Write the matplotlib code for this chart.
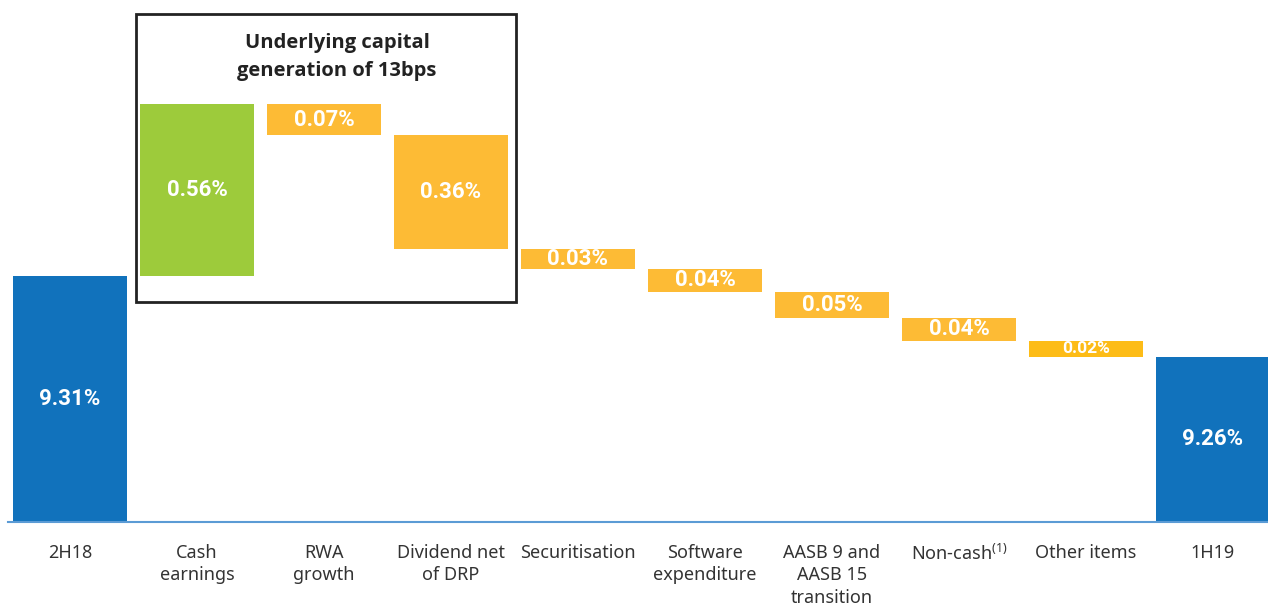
import numpy as np
import matplotlib
matplotlib.use('Agg')
from matplotlib import pyplot as plt
from matplotlib.patches import Rectangle

plt.rcParams['font.family'] = ['Noto Sans', 'DejaVu Sans']
plt.rcParams['mathtext.fontset'] = 'custom'
plt.rcParams['mathtext.rm'] = 'Noto Sans'

# data
categories = ['2H18', 'Cash\nearnings', 'RWA\ngrowth', 'Dividend net\nof DRP',
              'Securitisation', 'Software\nexpenditure',
              'AASB 9 and\nAASB 15\ntransition', 'Non-cash$^{\\rm(1)}$',
              'Other items', '1H19']
start_value = 9.31
end_value = 9.26
# step sizes as drawn in the chart (small steps are drawn taller than scale)
step_drawn = [0.56, -0.10, -0.37, -0.065, -0.075, -0.085, -0.075, -0.052]
step_labels = ['0.56%', '0.07%', '0.36%', '0.03%', '0.04%', '0.05%', '0.04%', '0.02%']
axis_floor = 8.51

blue = '#1172BC'
green = '#9DCB3B'
orange = '#FDBB35'
orange2 = '#FDBC17'

fig = plt.figure(figsize=(12.68, 6.08), dpi=100)
ax = fig.add_axes([8/1268, 86/608, 1260/1268, 522/608])

x = np.arange(len(categories))
w = 0.9
lab_kw = dict(ha='center', va='center', color='white', fontweight='bold', family='Roboto')

# start bar
ax.bar(x[0], start_value - axis_floor, bottom=axis_floor, width=w, color=blue)
ax.text(x[0], (start_value + axis_floor)/2, '%.2f%%' % start_value, fontsize=16, **lab_kw)

level = start_value
for i, (d, lab) in enumerate(zip(step_drawn, step_labels)):
    lo = min(level, level + d)
    col = green if d > 0 else orange
    if i == len(step_drawn) - 1:
        col = orange2
    ax.bar(x[i+1], abs(d), bottom=lo, width=w, color=col)
    fs = 12.5 if i == len(step_drawn) - 1 else 16
    ax.text(x[i+1], lo + abs(d)/2, lab, fontsize=fs, **lab_kw)
    level += d

# end bar
ax.bar(x[-1], level - axis_floor, bottom=axis_floor, width=w, color=blue)
ax.text(x[-1], (level + axis_floor)/2, '%.2f%%' % end_value, fontsize=16, **lab_kw)

ax.set_xlim(-0.488, 9.433)
ax.set_ylim(axis_floor, axis_floor + 522/307)
for s in ['top', 'right', 'left']:
    ax.spines[s].set_visible(False)
ax.spines['bottom'].set_color('#5B9BD5')
ax.spines['bottom'].set_linewidth(1.5)
ax.set_yticks([])
ax.set_xticks(x)
ax.set_xticklabels(categories, fontsize=13, color='#333333', linespacing=1.3, va='top')
ax.tick_params(axis='x', length=0, pad=16)

# box around underlying capital generation
fig.add_artist(Rectangle((136/1268, 1 - 302/608), 380/1268, 288/608,
                         transform=fig.transFigure, fill=False,
                         edgecolor='#222222', linewidth=2))
fig.text(337/1268, 1 - 57/608, 'Underlying capital\ngeneration of 13bps',
         ha='center', va='center', fontsize=14.5, fontweight='bold',
         family=['Open Sans', 'Lato', 'DejaVu Sans'],
         color='#222222', linespacing=1.55)

fig.savefig('out.png', dpi=100)
